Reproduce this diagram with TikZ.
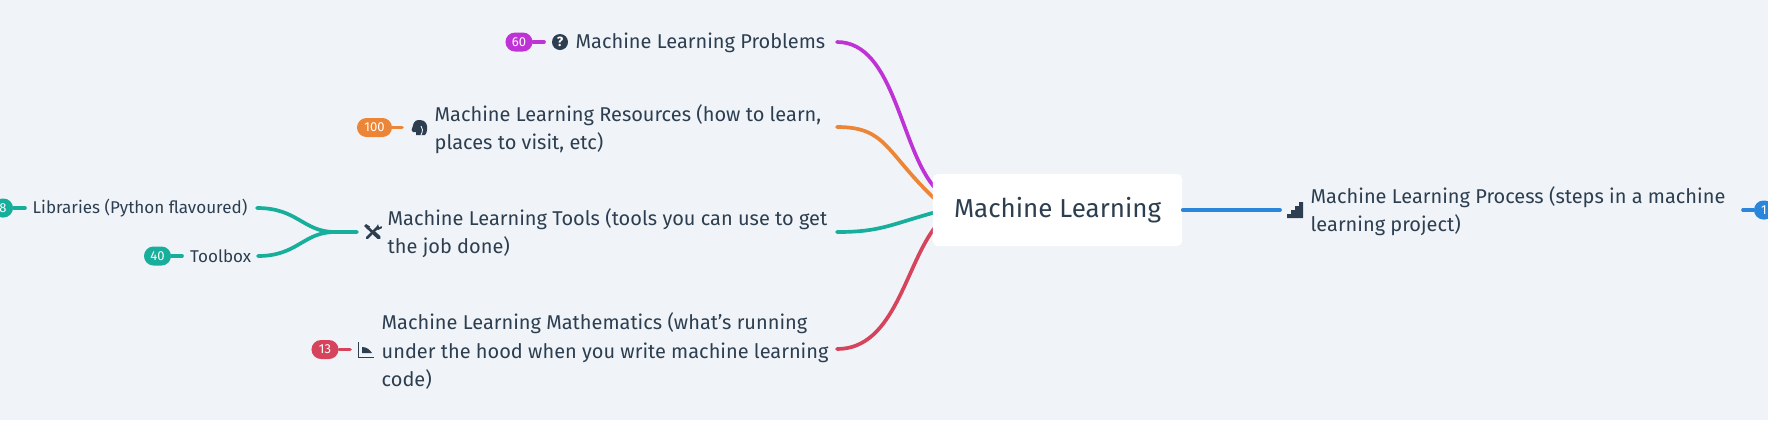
\documentclass[tikz,border=0pt]{standalone}
\usepackage{fontspec}
\setmainfont{Fira Sans}
\usetikzlibrary{positioning,calc}
\definecolor{bgcol}{HTML}{F0F4F8}
\definecolor{inkcol}{HTML}{2C3E50}
\definecolor{plumcol}{HTML}{BF33D6}
\definecolor{ambercol}{HTML}{ED8537}
\definecolor{tealcol}{HTML}{17AE9B}
\definecolor{rosecol}{HTML}{D6435C}
\definecolor{skycol}{HTML}{2A86DB}
\tikzset{
  topic/.style={right,inner sep=0pt,align=left,text=inkcol,font=\fontsize{5.68}{7.97}\selectfont},
  leaf/.style={right,inner sep=0pt,text=inkcol,font=\fontsize{4.85}{7}\selectfont},
  badge/.style={fill=#1,text=white,rounded corners=2.7pt,inner sep=0pt,minimum width=0.27cm,minimum height=0.19cm,font=\fontsize{3.7}{4}\selectfont},
  link/.style={#1,line width=1.05pt,line cap=round},
}
\begin{document}
\begin{tikzpicture}[x=0.01cm,y=-0.01cm]
\useasboundingbox (0,0) rectangle (1768,420);
\clip (0,0) rectangle (1768,420);
\fill [bgcol] (0,0) rectangle (1768,420);
% anchors of the connectors
\coordinate (rootp) at (936,189);
\coordinate (roota) at (936,200);
\coordinate (roott) at (936,212);
\coordinate (rootr) at (936,226);
\coordinate (probend) at (837,42);
\coordinate (resend) at (837,127);
\coordinate (toolend) at (837,232);
\coordinate (mathend) at (837,349);
\coordinate (libend) at (257,208);
\coordinate (boxend) at (258,256);
\coordinate (forkend) at (357,232);
\coordinate (forkmid) at (335,232);
\coordinate (procend) at (1280,210);
% badges
\node [badge=plumcol] (n60) at (519,42) {60};
\node [badge=ambercol,minimum width=0.35cm] (n100) at (374.5,127.5) {100};
\node [badge=tealcol,minimum width=0.2cm] (n8) at (3,208) {8};
\node [badge=tealcol] (n40) at (157.5,256) {40};
\node [badge=rosecol] (n13) at (325,349.5) {13};
\node [badge=skycol,minimum width=0.2cm] (n1) at (1764,210) {1};
\coordinate (n60s) at (544,42);
\coordinate (n100s) at (402,127.5);
\coordinate (n8s) at (25,208);
\coordinate (n40s) at (182,256);
\coordinate (n13s) at (350,349.5);
\coordinate (n1s) at (1743,210);
\draw [link=plumcol] (n60) -- (n60s);
\draw [link=ambercol] (n100) -- (n100s);
\draw [link=tealcol] (n8) -- (n8s);
\draw [link=tealcol] (n40) -- (n40s);
\draw [link=rosecol] (n13) -- (n13s);
\draw [link=skycol] (n1) -- (n1s);
% texts
\node [topic] (prob) at (575,43) {Machine Learning Problems};
\node [topic] (res) at (434,129) {Machine Learning Resources (how to learn,\\places to visit, etc)};
\node [topic] (tool) at (387,233) {Machine Learning Tools (tools you can use to get\\the job done)};
\node [topic] (math) at (381,351) {Machine Learning Mathematics (what's running\\under the hood when you write machine learning\\code)};
\node [topic] (proc) at (1310,211) {Machine Learning Process (steps in a machine\\learning project)};
\node [leaf] (lib) at (32,208.5) {Libraries (Python flavoured)};
\node [leaf] (box) at (189.5,256.5) {Toolbox};
% icons
\node [circle,fill=inkcol,text=white,inner sep=0pt,minimum size=0.16cm,font=\fontsize{3.8}{4}\selectfont\bfseries] (ask) at (560,42) {?};
\fill [inkcol] (411.5,130) .. controls (414,125) and (412,120) .. (420,120) .. controls (426,120) and (428,125) .. (427,130) .. controls (427,132) and (426,134) .. (425,135) -- (416,135) -- (416,132) -- (413,132) -- cycle;
\draw [bgcol,line width=0.25pt] (421,135) .. controls (423,131) and (423,128) .. (421,126);
\draw [inkcol,line width=0.75pt] (367,227) -- (379,238);
\draw [inkcol,line width=0.75pt,line cap=round] (378,227) -- (367,238);
\draw [inkcol,line width=1.1pt,line cap=round] (374.5,233.5) -- (379,237.5);
\fill [inkcol] (364,226) -- (366,224) -- (370,226.5) -- (368,229.5) -- cycle;
\fill [inkcol] (378,224) -- (376,228) -- (378,230) -- (382,228) -- (381.5,226) -- (379,227.5) -- cycle;
\draw [inkcol,line width=0.35pt] (358.5,342) -- (358.5,357.5) -- (374,357.5);
\fill [inkcol] (362,347) .. controls (367,347) and (370,350) .. (372,353) -- (362,353) -- cycle;
\fill [inkcol] (1287,218) -- (1287,214) -- (1291,214) -- (1291,210) -- (1295,210) -- (1295,206) -- (1299,206) -- (1299,202) -- (1303,202) -- (1303,218) -- cycle;
% connectors
\draw [link=plumcol] (probend) .. controls (895,42) and (900,150) .. (rootp);
\draw [link=ambercol] (resend) .. controls (887,127) and (885,152) .. (roota);
\draw [link=tealcol] (toolend) .. controls (880,232) and (889,225) .. (roott);
\draw [link=rosecol] (mathend) .. controls (895,349) and (905,265) .. (rootr);
\draw [link=tealcol] (libend) .. controls (298,208) and (303,232) .. (forkmid) -- (forkend);
\draw [link=tealcol] (boxend) .. controls (298,256) and (303,232) .. (forkmid);
% centre
\node [fill=white,rounded corners=1.4pt,inner sep=0pt,minimum width=2.49cm,minimum height=0.72cm,text=inkcol,font=\fontsize{7.38}{9}\selectfont] (root) at (1057.5,210) {Machine Learning};
\draw [link=skycol] (root) -- (procend);
\end{tikzpicture}
\end{document}
